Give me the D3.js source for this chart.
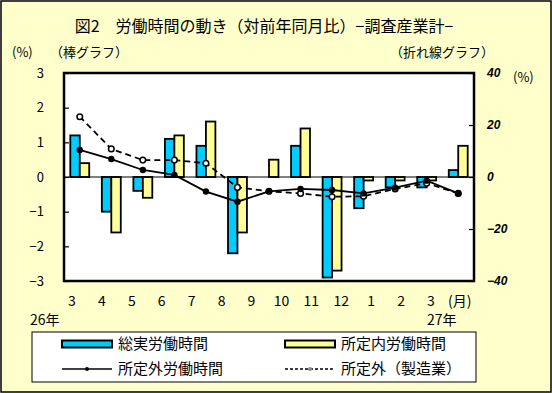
<!DOCTYPE html>
<html>
<head>
<meta charset="utf-8">
<script src="https://cdn.jsdelivr.net/npm/d3@7"></script>
<style>
body { margin: 0; background: #fff; }
text { font-family: "Noto Sans CJK JP", sans-serif; fill: #000; }
</style>
</head>
<body>
<svg id="chart" width="552" height="393"></svg>
<script>
// months, 26年3月 .. 27年3月
const months = ["3", "4", "5", "6", "7", "8", "9", "10", "11", "12", "1", "2", "3"];
// bar series (left axis, %)
const totalHours = [1.2, -1.0, -0.4, 1.1, 0.9, -2.2, 0.0, 0.9, -2.9, -0.9, -0.3, -0.3, 0.2];
const scheduledHours = [0.4, -1.6, -0.6, 1.2, 1.6, -1.6, 0.5, 1.4, -2.7, -0.1, -0.1, -0.1, 0.9];
// line series (right axis, %)
const overtimeHours = [10.4, 6.9, 2.7, 0.8, -5.6, -9.5, -5.5, -4.6, -5.0, -6.3, -4.1, -1.4, -6.3];
const overtimeMfg = [23.2, 10.8, 6.5, 6.5, 5.3, -4.0, -5.5, -6.3, -7.6, -7.4, -4.6, -2.4, -6.3];
const leftTicks = [-3, -2, -1, 0, 1, 2, 3];
const rightTicks = [-40, -20, 0, 20, 40];

const plot = {left: 64, right: 474, top: 73, bottom: 281};

const svg = d3.select("#chart");

// background + outer frame
svg.append("rect")
    .attr("x", 1).attr("y", 1)
    .attr("width", 550).attr("height", 391)
    .attr("fill", "#ffffcc")
    .attr("stroke", "#000")
    .attr("stroke-width", 1.5);

svg.append("text")
    .attr("x", 264).attr("y", 32)
    .attr("text-anchor", "middle")
    .style("font-size", "16px")
    .text("図2\u3000労働時間の動き（対前年同月比）−調査産業計−");

svg.append("text").attr("x", 12).attr("y", 57).style("font-size", "13px").text("(%)");
svg.append("text").attr("x", 50).attr("y", 57).style("font-size", "13px").text("（棒グラフ）");
svg.append("text").attr("x", 390).attr("y", 57).style("font-size", "13px").text("（折れ線グラフ）");
svg.append("text").attr("x", 513).attr("y", 82).style("font-size", "13px").text("(%)");

const idx = months.map((d, i) => i);

const x = d3.scaleBand()
    .domain(idx)
    .range([plot.left, plot.right])
    .paddingInner(0.4)
    .paddingOuter(0.2);

const x1 = d3.scaleBand()
    .domain(["total", "scheduled"])
    .range([0, x.bandwidth()]);

const yL = d3.scaleLinear().domain([-3, 3]).range([plot.bottom, plot.top]);
const yR = d3.scaleLinear().domain([-40, 40]).range([plot.bottom, plot.top]);

// plot area
svg.append("rect")
    .attr("x", plot.left).attr("y", plot.top)
    .attr("width", plot.right - plot.left)
    .attr("height", plot.bottom - plot.top)
    .attr("fill", "#fff");

// axes with inward ticks
const leftAxis = svg.append("g")
    .attr("transform", `translate(${plot.left},0)`)
    .call(d3.axisRight(yL).tickValues(leftTicks).tickSize(5).tickFormat(""));
const rightAxis = svg.append("g")
    .attr("transform", `translate(${plot.right},0)`)
    .call(d3.axisLeft(yR).tickValues(rightTicks).tickSize(5).tickFormat(""));
[leftAxis, rightAxis].forEach(g => {
    g.select(".domain").remove();
    g.selectAll("line").attr("stroke", "#000").attr("stroke-width", 1.2);
});

svg.append("g").selectAll("text")
    .data(leftTicks)
    .enter().append("text")
    .attr("x", 44)
    .attr("y", d => yL(d))
    .attr("dy", "0.35em")
    .attr("text-anchor", "end")
    .style("font-size", "13px")
    .text(d => d3.format("d")(d));

svg.append("g").selectAll("text")
    .data(rightTicks)
    .enter().append("text")
    .attr("x", 487)
    .attr("y", d => yR(d))
    .attr("dy", "0.35em")
    .style("font-family", "'Liberation Sans', sans-serif")
    .style("font-style", "italic")
    .style("font-weight", "bold")
    .style("font-size", "12px")
    .text(d => d3.format("d")(d));

// bars
const barData = idx.map(i => ({i, total: totalHours[i], scheduled: scheduledHours[i]}));
const colors = {total: "#00ccff", scheduled: "#ffff99"};

const groups = svg.append("g").selectAll("g")
    .data(barData)
    .enter().append("g")
    .attr("transform", d => `translate(${x(d.i)},0)`);

groups.selectAll("rect")
    .data(d => ["total", "scheduled"].map(k => ({k, v: d[k]})).filter(e => e.v !== 0))
    .enter().append("rect")
    .attr("x", e => x1(e.k))
    .attr("y", e => yL(Math.max(0, e.v)))
    .attr("width", x1.bandwidth())
    .attr("height", e => Math.abs(yL(e.v) - yL(0)))
    .attr("fill", e => colors[e.k])
    .attr("stroke", "#000")
    .attr("stroke-width", 1.8);

// zero line
svg.append("line")
    .attr("x1", plot.left).attr("x2", plot.right)
    .attr("y1", yL(0)).attr("y2", yL(0))
    .attr("stroke", "#000").attr("stroke-width", 1);

// lines
const cx = i => x(i) + x.bandwidth() / 2;
const line = d3.line().x((d, i) => cx(i)).y(d => yR(d));

svg.append("path")
    .datum(overtimeMfg)
    .attr("d", line)
    .attr("fill", "none")
    .attr("stroke", "#000")
    .attr("stroke-width", 1.8)
    .attr("stroke-dasharray", "6,4");

svg.append("path")
    .datum(overtimeHours)
    .attr("d", line)
    .attr("fill", "none")
    .attr("stroke", "#000")
    .attr("stroke-width", 1.8);

svg.append("g").selectAll("circle")
    .data(overtimeMfg)
    .enter().append("circle")
    .attr("cx", (d, i) => cx(i))
    .attr("cy", d => yR(d))
    .attr("r", 2.8)
    .attr("fill", "#fff")
    .attr("stroke", "#000")
    .attr("stroke-width", 1.5);

svg.append("g").selectAll("circle")
    .data(overtimeHours)
    .enter().append("circle")
    .attr("cx", (d, i) => cx(i))
    .attr("cy", d => yR(d))
    .attr("r", 3.2)
    .attr("fill", "#000");

// plot frame
svg.append("rect")
    .attr("x", plot.left).attr("y", plot.top)
    .attr("width", plot.right - plot.left)
    .attr("height", plot.bottom - plot.top)
    .attr("fill", "none")
    .attr("stroke", "#000")
    .attr("stroke-width", 2.5);

// month labels
const xl = d3.scalePoint().domain(idx).range([72, 431]);
svg.append("g").selectAll("text")
    .data(idx)
    .enter().append("text")
    .attr("x", d => xl(d))
    .attr("y", 306)
    .attr("text-anchor", "middle")
    .style("font-size", "14px")
    .text(d => months[d]);
svg.append("text").attr("x", 448).attr("y", 306).style("font-size", "14px").text("(月)");
svg.append("text").attr("x", 30).attr("y", 325).style("font-size", "14px").text("26年");
svg.append("text").attr("x", 427).attr("y", 325).style("font-size", "14px").text("27年");

// legend
const legend = svg.append("g");
legend.append("rect")
    .attr("x", 32).attr("y", 332)
    .attr("width", 444).attr("height", 50)
    .attr("fill", "#fff")
    .attr("stroke", "#000")
    .attr("stroke-width", 1);

const legendItems = [
    {label: "総実労働時間", type: "bar", color: colors.total, x: 62, y: 344},
    {label: "所定内労働時間", type: "bar", color: colors.scheduled, x: 285, y: 344},
    {label: "所定外労働時間", type: "line", dash: null, x: 62, y: 369},
    {label: "所定外（製造業）", type: "line", dash: "3,2", x: 285, y: 369}
];

legendItems.forEach(d => {
    const g = legend.append("g");
    if (d.type === "bar") {
        g.append("rect")
            .attr("x", d.x).attr("y", d.y - 3.5)
            .attr("width", 50).attr("height", 7)
            .attr("fill", d.color)
            .attr("stroke", "#000")
            .attr("stroke-width", 2);
    } else {
        g.append("line")
            .attr("x1", d.x).attr("x2", d.x + 50)
            .attr("y1", d.y).attr("y2", d.y)
            .attr("stroke", "#000")
            .attr("stroke-width", 1.5)
            .attr("stroke-dasharray", d.dash);
        g.append("circle")
            .attr("cx", d.x + 25).attr("cy", d.y)
            .attr("r", 2)
            .attr("fill", d.dash ? "#888" : "#000");
    }
    g.append("text")
        .attr("x", d.x + 56).attr("y", d.y)
        .attr("dy", "0.36em")
        .style("font-size", "15px")
        .text(d.label);
});
</script>
</body>
</html>
